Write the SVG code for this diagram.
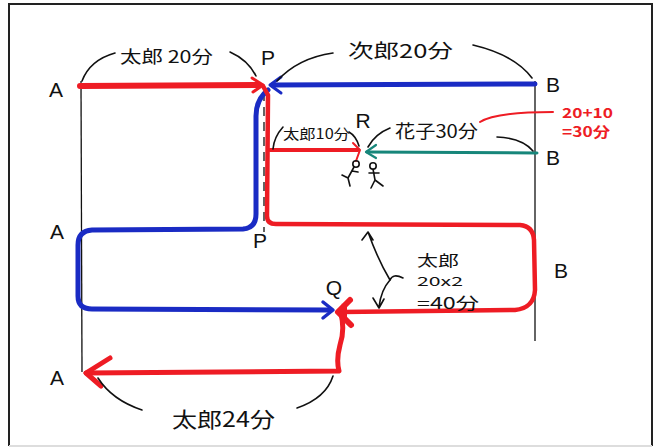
<svg xmlns="http://www.w3.org/2000/svg" width="654" height="448" viewBox="0 0 654 448">
<defs>
<style>
.lbl{font-family:"Liberation Sans","Noto Sans",sans-serif;font-size:21px;fill:#111;text-anchor:middle;dominant-baseline:central}
.jp{font-family:"Noto Sans CJK JP","Noto Sans",sans-serif;fill:#111;dominant-baseline:central}
.red{fill:none;stroke:#ee1c24;stroke-linecap:round;stroke-linejoin:round}
.blue{fill:none;stroke:#1a2bc4;stroke-linecap:round;stroke-linejoin:round}
.ink{fill:none;stroke:#111;stroke-width:1.6;stroke-linecap:round;stroke-linejoin:round}
.guide{fill:none;stroke:#111;stroke-width:1.3}
</style>
</defs>
<rect x="0" y="0" width="654" height="448" fill="#fff"/>
<path d="M9 446 L9 4 L652 4 L652 446" fill="none" stroke="#222" stroke-width="2"/>
<line x1="9" y1="446" x2="652" y2="446" stroke="#ddd" stroke-width="2"/>

<g id="guides">
<line class="guide" x1="81" y1="81" x2="82" y2="372"/>
<line class="guide" x1="535" y1="81" x2="535" y2="341"/>
<line x1="264" y1="92" x2="264" y2="232" stroke="#111" stroke-width="1.3" stroke-dasharray="9 6"/>
</g>

<g id="connectors">
<!-- Taro A to P -->
<path class="red" stroke-width="6" d="M80 86 L258 85"/>
<path class="red" stroke-width="3" d="M252 78 L263 85 L253 92"/>
<!-- Jiro B to P -->
<path class="blue" stroke-width="5" d="M535 84 L272 85"/>
<path class="blue" stroke-width="3" d="M281 77 L270 85 L281 93"/>
<!-- Jiro P to A to Q -->
<path class="blue" stroke-width="5" d="M268 90 C259 97 256 105 256 116 L256 214 Q256 228 243 229 L92 230 Q78 231 78 245 L78 296 Q78 309 92 309 L330 310"/>
<path class="blue" stroke-width="3.5" d="M323 302 L333 310 L323 318"/>
<!-- Taro P down, to B, back to Q -->
<path class="red" stroke-width="4.5" d="M263 86 L268 95 L267 216 Q267 224 276 224 L520 225 Q533 226 534 240 L535 290 Q534 308 515 310 L342 312"/>
<path class="red" stroke-width="6" d="M350 300 L338 312 L351 325 M344 306 L344 318"/>
<!-- Taro Q to A -->
<path class="red" stroke-width="5" d="M341 314 Q345 330 340 345 Q336 360 339 371 L86 373"/>
<path class="red" stroke-width="5" d="M110 358 L86 373 L101 386"/>
<!-- Taro to R -->
<path class="red" stroke-width="4" d="M270 150 L358 150"/>
<path class="red" stroke-width="2" d="M353 143 L360 150 L356 161"/>
<!-- Hanako B to R -->
<path fill="none" stroke="#17867a" stroke-width="3" stroke-linecap="round" d="M537 153 L367 152"/>
<path fill="none" stroke="#17867a" stroke-width="2.2" stroke-linecap="round" stroke-linejoin="round" d="M376 145 L366 152 L376 158"/>
<!-- annotation curves -->
<path class="ink" d="M82 81 Q90 60 115 53"/>
<path class="ink" d="M230 52 Q248 60 256 76"/>
<path class="ink" d="M333 53 Q298 58 277 81"/>
<path class="ink" d="M473 45 Q515 55 532 78"/>
<path class="ink" d="M283 127 Q274 137 273 149"/>
<path class="ink" d="M349 132 Q356 136 359 146"/>
<path class="ink" d="M390 128 Q375 134 368 147"/>
<path class="ink" d="M497 137 Q522 138 533 151"/>
<path class="red" stroke-width="2" d="M480 122 Q495 112 553 112"/>
<path class="ink" d="M403 278 Q393 273 390 280 Q378 260 368 232 M362 240 L368 232 L373 240"/>
<path class="ink" d="M390 280 Q381 290 379 307 M373 298 L379 308 L384 299"/>
<path class="ink" d="M98 378 Q112 400 142 410"/>
<path class="ink" d="M297 408 Q326 398 333 376"/>
<!-- stick figures -->
<g class="ink" stroke-width="1.4">
<circle cx="356" cy="164" r="3.2"/>
<path d="M354 167 L348 178 M352 171 L358 172 M348 178 L342 175 M348 178 L350 186"/>
<circle cx="373" cy="166" r="3.2"/>
<path d="M373 169 L375 180 M369 173 L379 173 M375 180 L371 188 M375 180 L383 186"/>
</g>
</g>

<g id="texts">
<text class="jp" x="120" y="55" font-size="17" textLength="93" lengthAdjust="spacingAndGlyphs">太郎 20分</text>
<text class="jp" x="348" y="49" font-size="19" textLength="105" lengthAdjust="spacingAndGlyphs">次郎20分</text>
<text class="jp" x="283" y="133" font-size="14" textLength="67" lengthAdjust="spacingAndGlyphs">太郎10分</text>
<text class="jp" x="395" y="130" font-size="18" textLength="83" lengthAdjust="spacingAndGlyphs">花子30分</text>
<text class="jp" x="562" y="112" font-size="14" style="fill:#ee1c24;font-weight:bold" textLength="51" lengthAdjust="spacingAndGlyphs">20+10</text>
<text class="jp" x="562" y="131" font-size="14" style="fill:#ee1c24;font-weight:bold" textLength="48" lengthAdjust="spacingAndGlyphs">=30分</text>
<text class="jp" x="417" y="259" font-size="15" textLength="42" lengthAdjust="spacingAndGlyphs">太郎</text>
<text class="jp" x="417" y="280" font-size="12" textLength="46" lengthAdjust="spacingAndGlyphs">20x2</text>
<text class="jp" x="417" y="302" font-size="16" textLength="62" lengthAdjust="spacingAndGlyphs">=40分</text>
<text class="jp" x="172" y="418" font-size="21" textLength="103" lengthAdjust="spacingAndGlyphs">太郎24分</text>
</g>

<g id="node-A1"><text class="lbl" x="56" y="89">A</text></g>
<g id="node-A2"><text class="lbl" x="57" y="231">A</text></g>
<g id="node-A3"><text class="lbl" x="57" y="377">A</text></g>
<g id="node-B1"><text class="lbl" x="553" y="84">B</text></g>
<g id="node-B2"><text class="lbl" x="553" y="157">B</text></g>
<g id="node-B3"><text class="lbl" x="561" y="270">B</text></g>
<g id="node-P1"><text class="lbl" x="268" y="57">P</text></g>
<g id="node-P2"><text class="lbl" x="260" y="240">P</text></g>
<g id="node-R"><text class="lbl" x="363" y="120" font-size="18">R</text></g>
<g id="node-Q"><text class="lbl" x="334" y="287" font-size="19">Q</text></g>
</svg>
